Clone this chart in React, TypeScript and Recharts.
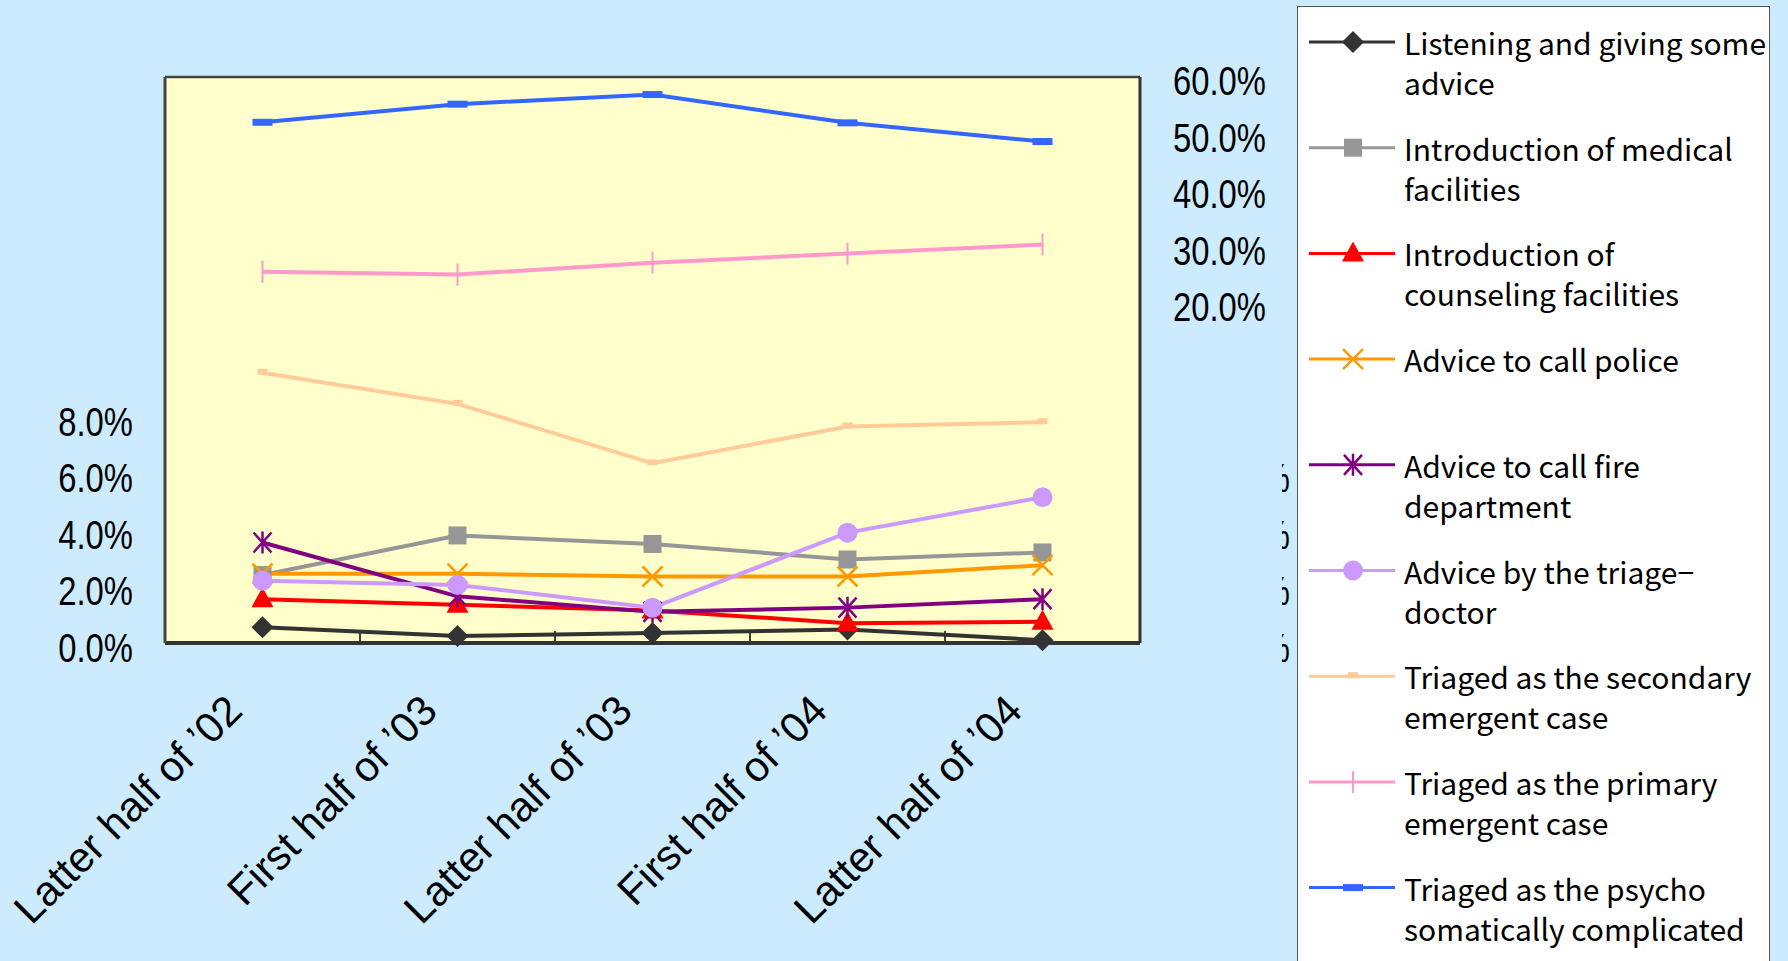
import React from 'react'
import { LineChart, Line, XAxis, YAxis, CartesianGrid, ReferenceLine } from 'recharts'

// period labels on the x axis
const periods = ['Latter half of ’02', 'First half of ’03', 'Latter half of ’03', 'First half of ’04', 'Latter half of ’04']

// percentages (left scale 0-20, right scale -40-60)
const listening = [0.56, 0.25, 0.35, 0.48, 0.1]
const medical = [2.4, 3.8, 3.5, 2.95, 3.2]
const counseling = [1.55, 1.35, 1.15, 0.7, 0.75]
const police = [2.45, 2.45, 2.35, 2.35, 2.75]
const fire = [3.55, 1.65, 1.1, 1.25, 1.55]
const triageDoctor = [2.2, 2.05, 1.25, 3.9, 5.15]
const secondary = [9.55, 8.45, 6.35, 7.65, 7.8]
const primary = [25.6, 25.1, 27.2, 28.8, 30.4]
const psycho = [52.0, 55.2, 56.9, 51.9, 48.6]

const leftTicks = [0, 2, 4, 6, 8]
const rightTicks = [20, 30, 40, 50, 60]
const gridTicks = [0, 2, 4, 6, 8, 10, 12, 14, 16, 18, 20]
const ghostTicks = [0, 2, 4, 6]
const boundaries = [0.5, 1.5, 2.5, 3.5]

type Kind = 'diamond' | 'square' | 'triangle' | 'x' | 'star' | 'circle' | 'dash' | 'plus' | 'bar'

// axis 'a' and 'r2' share the 0-20 scale; 'r1' is the -40-60 scale on the right
const series: { key: string; values: number[]; color: string; kind: Kind; axis: string; label: string[] }[] = [
  { key: 'listening', values: listening, color: '#333333', kind: 'diamond', axis: 'a', label: ['Listening and giving some', 'advice'] },
  { key: 'medical', values: medical, color: '#969696', kind: 'square', axis: 'a', label: ['Introduction of medical', 'facilities'] },
  { key: 'counseling', values: counseling, color: '#FF0000', kind: 'triangle', axis: 'a', label: ['Introduction of', 'counseling facilities'] },
  { key: 'police', values: police, color: '#FF9900', kind: 'x', axis: 'a', label: ['Advice to call police'] },
  { key: 'fire', values: fire, color: '#800080', kind: 'star', axis: 'a', label: ['Advice to call fire', 'department'] },
  { key: 'triageDoctor', values: triageDoctor, color: '#CC99FF', kind: 'circle', axis: 'a', label: ['Advice by the triage−', 'doctor'] },
  { key: 'secondary', values: secondary, color: '#FFCC99', kind: 'dash', axis: 'r2', label: ['Triaged as the secondary', 'emergent case'] },
  { key: 'primary', values: primary, color: '#FF99CC', kind: 'plus', axis: 'r1', label: ['Triaged as the primary', 'emergent case'] },
  { key: 'psycho', values: psycho, color: '#3366FF', kind: 'bar', axis: 'r1', label: ['Triaged as the psycho', 'somatically complicated'] },
]

const data = periods.map((p, i) => {
  const row: Record<string, number | string> = { idx: i, period: p }
  series.forEach(s => { row[s.key] = s.values[i] })
  return row
})

const AXIS_FONT = "'Liberation Sans', Arial, sans-serif"
const LEGEND_FONT = "'Noto Sans CJK JP', 'Noto Sans', sans-serif"
const pct = (v: number) => `${v.toFixed(1)}%`

function Marker({ kind, color, cx, cy }: { kind: Kind; color: string; cx: number; cy: number }) {
  if (cx == null || cy == null) return null
  switch (kind) {
    case 'diamond':
      return <polygon points={`${cx},${cy - 11} ${cx + 11},${cy} ${cx},${cy + 11} ${cx - 11},${cy}`} fill={color} />
    case 'square':
      return <rect x={cx - 9} y={cy - 9} width={18} height={18} fill={color} />
    case 'triangle':
      return <polygon points={`${cx},${cy - 12} ${cx + 11},${cy + 8} ${cx - 11},${cy + 8}`} fill={color} />
    case 'x':
      return <path d={`M${cx - 10},${cy - 10}L${cx + 10},${cy + 10}M${cx - 10},${cy + 10}L${cx + 10},${cy - 10}`} stroke={color} strokeWidth={2.5} fill="none" />
    case 'star':
      return <path d={`M${cx - 9},${cy - 10}L${cx + 9},${cy + 10}M${cx - 9},${cy + 10}L${cx + 9},${cy - 10}M${cx},${cy - 11}L${cx},${cy + 11}`} stroke={color} strokeWidth={2.5} fill="none" />
    case 'circle':
      return <circle cx={cx} cy={cy} r={10} fill={color} />
    case 'dash':
      return <rect x={cx - 5} y={cy - 4} width={10} height={6} fill={color} />
    case 'plus':
      return <line x1={cx} x2={cx} y1={cy - 11} y2={cy + 11} stroke={color} strokeWidth={2} />
    case 'bar':
      return <rect x={cx - 10} y={cy - 3.5} width={20} height={7} fill={color} />
  }
  return null
}

function PeriodTick({ x, y, payload }: any) {
  const ax = x - 18
  const ay = y + 70
  return (
    <text x={ax} y={ay} transform={`rotate(-45, ${ax}, ${ay})`} textAnchor="end" fontSize={42} fontFamily={AXIS_FONT} fill="#000">
      {periods[payload.value]}
    </text>
  )
}

function LeftTick({ x, y, payload }: any) {
  return (
    <g transform={`translate(${x - 32},${y + 19}) scale(0.82,1)`}>
      <text textAnchor="end" fontSize={40} fontFamily={AXIS_FONT} fill="#000">{pct(payload.value)}</text>
    </g>
  )
}

function RightTick({ x, y, payload }: any) {
  return (
    <g transform={`translate(${x + 33},${y + 18}) scale(0.82,1)`}>
      <text textAnchor="start" fontSize={40} fontFamily={AXIS_FONT} fill="#000">{pct(payload.value)}</text>
    </g>
  )
}

// labels of a second axis that sit under the legend: only the edge of the "%" shows
function GhostTick({ x, y, payload }: any) {
  const id = `ghost-clip-${payload.value}`
  return (
    <g>
      <defs>
        <clipPath id={id} clipPathUnits="userSpaceOnUse">
          <rect x={x - 8} y={y - 40} width={9} height={70} />
        </clipPath>
      </defs>
      <g clipPath={`url(#${id})`}>
        <g transform={`translate(${x},${y + 19}) scale(0.82,1)`}>
          <text textAnchor="end" fontSize={40} fontFamily={AXIS_FONT} fill="#000">{pct(payload.value)}</text>
        </g>
      </g>
    </g>
  )
}

function LegendBox() {
  return (
    <div style={{ position: 'absolute', left: 1297, top: 6, width: 473, height: 1000, background: '#fff', border: '1.5px solid #555', boxSizing: 'border-box' }}>
      <svg width={470} height={960}>
        {series.map((s, i) => {
          const y = 35 + i * 105.7
          return (
            <g key={s.key}>
              <line x1={11} x2={97} y1={y} y2={y} stroke={s.color} strokeWidth={3} />
              <Marker kind={s.kind} color={s.color} cx={55} cy={y} />
              {s.label.map((t, j) => (
                <text key={j} x={106} y={y + 13 + j * 40} fontSize={30} fontFamily={LEGEND_FONT} fill="#000">{t}</text>
              ))}
            </g>
          )
        })}
      </svg>
    </div>
  )
}

export default function App() {
  return (
    <div style={{ position: 'absolute', left: 0, top: 0, width: 1788, height: 961, background: '#CCEBFF', overflow: 'hidden' }}>
      <LineChart width={1788} height={961} data={data} margin={{ top: 77, right: 488, bottom: 218, left: 65 }}>
        <CartesianGrid yAxisId="grid" fill="#FFFFCC" fillOpacity={1} stroke="#111" strokeWidth={1.3} vertical={false} />
        <XAxis dataKey="idx" type="number" domain={[-0.5, 4.5]} ticks={[0, 1, 2, 3, 4]} interval={0} height={100}
          tick={<PeriodTick />} tickLine={false} tickSize={0} tickMargin={0} axisLine={{ stroke: '#333', strokeWidth: 4 }} />
        <YAxis yAxisId="a" type="number" domain={[0, 20]} ticks={leftTicks} width={100} interval={0}
          tick={<LeftTick />} tickLine={false} tickSize={0} tickMargin={0} axisLine={{ stroke: '#444', strokeWidth: 3 }} />
        <YAxis yAxisId="grid" hide width={0} type="number" domain={[0, 20]} ticks={gridTicks} />
        <YAxis yAxisId="r1" orientation="right" type="number" domain={[-40, 60]} ticks={rightTicks} width={150} interval={0}
          tick={<RightTick />} tickLine={false} tickSize={0} tickMargin={0} axisLine={{ stroke: '#333', strokeWidth: 3 }} />
        <YAxis yAxisId="r2" orientation="right" type="number" domain={[0, 20]} ticks={ghostTicks} width={10} interval={0}
          allowDataOverflow tick={<GhostTick />} tickLine={false} tickSize={0} tickMargin={0} axisLine={false} />
        <ReferenceLine yAxisId="a" y={20} stroke="#444" strokeWidth={2.5} />
        {boundaries.map(b => (
          <ReferenceLine key={b} yAxisId="a" segment={[{ x: b, y: 0 }, { x: b, y: 0.42 }]} stroke="#000" strokeWidth={1.5} />
        ))}
        {series.map(s => (
          <Line key={s.key} yAxisId={s.axis} dataKey={s.key} type="linear" stroke={s.color} strokeWidth={4}
            dot={(p: any) => <Marker key={p.index} kind={s.kind} color={s.color} cx={p.cx} cy={p.cy} />}
            activeDot={false} isAnimationActive={false} />
        ))}
      </LineChart>
      <LegendBox />
    </div>
  )
}
